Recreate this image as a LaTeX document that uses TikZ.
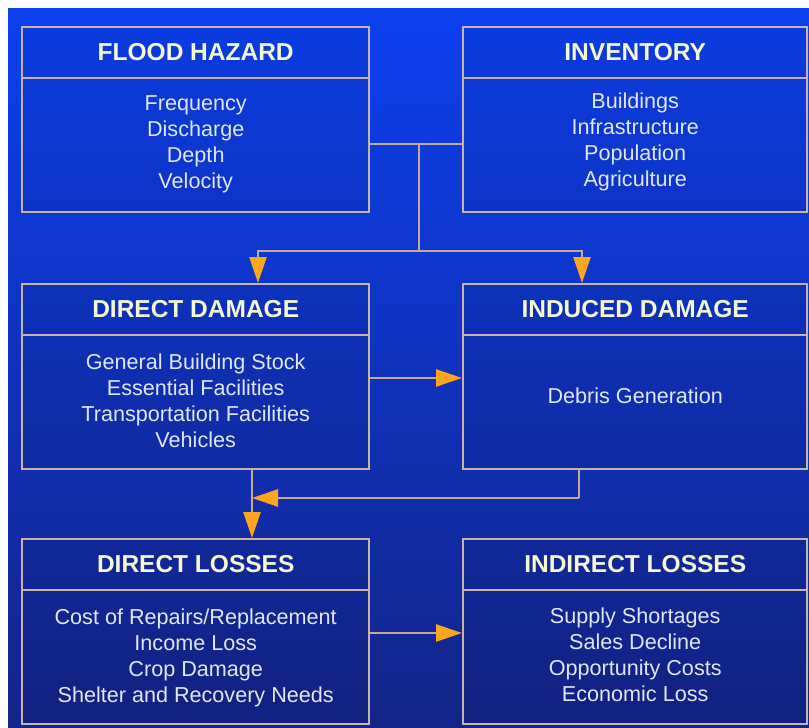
\documentclass[tikz,border=0pt]{standalone}
\usepackage{fontspec}
\setmainfont{Liberation Sans}
\usetikzlibrary{arrows.meta}
\definecolor{bgtop}{RGB}{12,64,240}
\definecolor{bgbot}{RGB}{20,36,136}
\definecolor{edgec}{RGB}{198,180,170}
\definecolor{linkc}{RGB}{196,170,150}
\definecolor{tipc}{RGB}{255,166,30}
\definecolor{ttlc}{RGB}{244,248,212}
\definecolor{bodc}{RGB}{222,230,244}
\begin{document}
\begin{tikzpicture}[x=1pt,y=-1pt,
  boxL/.style={draw=edgec, line width=2.4pt, fill=black, fill opacity=0.06, text opacity=1,
    minimum width=347pt, minimum height=185pt, anchor=north west, inner sep=0pt},
  boxR/.style={boxL, minimum width=344pt},
  ttl/.style={text=ttlc, font=\bfseries\fontsize{24.5}{28}\selectfont, inner sep=0pt},
  bod/.style={text=bodc, font=\fontsize{21.6}{26}\selectfont, align=center, inner sep=0pt},
  divl/.style={draw=edgec, line width=2.4pt},
  conn/.style={draw=linkc, line width=2.6pt},
  arr/.style={conn, -{Triangle[length=26pt,width=17pt,color=tipc]}}
]
\useasboundingbox (0,0) rectangle (809,728);
\fill[top color=bgtop, bottom color=bgbot] (8,8) rectangle (809,728);

% boxes
\node[boxL] (fh) at (21,26) {};
\node[boxR] (inv) at (462,26) {};
\node[boxL] (dd) at (21,283) {};
\node[boxR] (ind) at (462,283) {};
\node[boxL] (dl) at (21,538) {};
\node[boxR] (il) at (462,538) {};

% dividers
\foreach \b in {fh,inv,dd,ind,dl,il}{
  \draw[divl] ([yshift=-52pt]\b.north west) -- ([yshift=-52pt]\b.north east);
}

% titles
\node[ttl] (fht) at ([yshift=-26pt]fh.north) {FLOOD HAZARD};
\node[ttl] (invt) at ([yshift=-26pt]inv.north) {INVENTORY};
\node[ttl] (ddt) at ([yshift=-26pt]dd.north) {DIRECT DAMAGE};
\node[ttl] (indt) at ([yshift=-26pt]ind.north) {INDUCED DAMAGE};
\node[ttl] (dlt) at ([yshift=-26pt]dl.north) {DIRECT LOSSES};
\node[ttl] (ilt) at ([yshift=-26pt]il.north) {INDIRECT LOSSES};

% bodies
\node[bod] (fhb) at ([yshift=-118pt]fh.north) {Frequency\\Discharge\\Depth\\Velocity};
\node[bod] (invb) at ([yshift=-116pt]inv.north) {Buildings\\Infrastructure\\Population\\Agriculture};
\node[bod] (ddb) at ([yshift=-118pt]dd.north) {General Building Stock\\Essential Facilities\\Transportation Facilities\\Vehicles};
\node[bod] (indb) at ([yshift=-113pt]ind.north) {Debris Generation};
\node[bod] (dlb) at ([yshift=-120pt]dl.north) {Cost of Repairs/Replacement\\Income Loss\\Crop Damage\\Shelter and Recovery Needs};
\node[bod] (ilb) at ([yshift=-117pt]il.north) {Supply Shortages\\Sales Decline\\Opportunity Costs\\Economic Loss};

% connectors
\coordinate (j1) at (419,144);
\coordinate (j2) at (419,251);
\draw[conn] (fh.east |- j1) -- (inv.west |- j1);
\draw[conn] (j1) -- (j2);
\draw[arr] (j2) -| ([xshift=237pt]dd.north west);
\draw[arr] (j2) -| ([xshift=120pt]ind.north west);

\coordinate (j3) at (0,378);
\draw[arr] (dd.east |- j3) -- (ind.west |- j3);

\coordinate (j4) at (579,498);
\coordinate (j5) at (252,498);
\draw[conn] (ind.south -| j4) -- (j4);
\draw[arr] (j4) -- (j5);
\draw[arr] (dd.south -| j5) -- (dl.north -| j5);

\coordinate (j6) at (0,633);
\draw[arr] (dl.east |- j6) -- (il.west |- j6);
\end{tikzpicture}
\end{document}
